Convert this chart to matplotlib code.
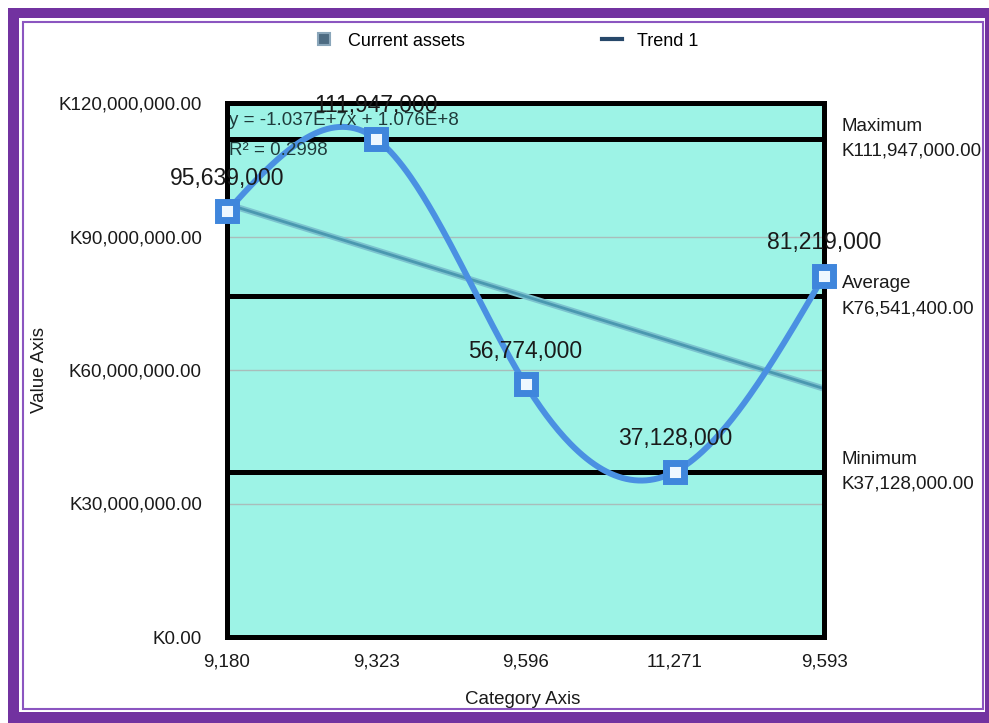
import matplotlib.pyplot as plt
import numpy as np
from matplotlib.lines import Line2D
from matplotlib.patches import Rectangle
from matplotlib.ticker import FuncFormatter

plt.rcParams["font.family"] = ["Liberation Sans", "DejaVu Sans"]

# ----------------------------------------------------------
# Data
# ----------------------------------------------------------

categories = ["9,180", "9,323", "9,596", "11,271", "9,593"]
current_assets = [95639000, 111947000, 56774000, 37128000, 81219000]
y_ticks = [0, 30000000, 60000000, 90000000, 120000000]

PURPLE = "#7232a0"
CYAN = "#9df3e6"
BLUE = "#4a90e2"
TREND = "#4a98b0"
TEXT = "#1a1a1a"
FS = 13.5


def natural_spline(x, y, num=300):
    """Natural cubic spline through (x, y) for a smooth line."""
    x = np.asarray(x, dtype=float)
    y = np.asarray(y, dtype=float)
    n = len(x)
    h = np.diff(x)
    a = np.zeros((n, n))
    b = np.zeros(n)
    a[0, 0] = a[-1, -1] = 1
    for i in range(1, n - 1):
        a[i, i - 1] = h[i - 1]
        a[i, i] = 2 * (h[i - 1] + h[i])
        a[i, i + 1] = h[i]
        b[i] = 3 * ((y[i + 1] - y[i]) / h[i] - (y[i] - y[i - 1]) / h[i - 1])
    c = np.linalg.solve(a, b)
    xs = np.linspace(x[0], x[-1], num)
    ys = np.empty_like(xs)
    for k, xv in enumerate(xs):
        i = min(np.searchsorted(x, xv, side="right") - 1, n - 2)
        dx = xv - x[i]
        bi = (y[i + 1] - y[i]) / h[i] - h[i] * (2 * c[i] + c[i + 1]) / 3
        di = (c[i + 1] - c[i]) / (3 * h[i])
        ys[k] = y[i] + bi * dx + c[i] * dx ** 2 + di * dx ** 3
    return xs, ys


W, H = 989, 723
fig = plt.figure(figsize=(W / 100, H / 100), dpi=100)


def px_rect(x0, y0, x1, y1, **kwargs):
    """Rectangle given in pixel coordinates from the top-left corner."""
    return Rectangle(
        (x0 / W, 1 - y1 / H), (x1 - x0) / W, (y1 - y0) / H,
        transform=fig.transFigure, zorder=-10, **kwargs
    )


# frame around the chart
fig.add_artist(px_rect(8, 8, 995, 730, facecolor=PURPLE, edgecolor="none"))
fig.add_artist(px_rect(19, 18, 985, 712, facecolor="white", edgecolor="none"))
fig.add_artist(px_rect(23, 22, 983, 709, facecolor="none",
                       edgecolor="#8b55c0", linewidth=1.5))

ax = fig.add_axes([227 / W, 1 - 637 / H, 597 / W, 534 / H])
ax.set_facecolor(CYAN)

x = np.arange(len(categories))
values = np.array(current_assets, dtype=float)

# grid
for yv in y_ticks[1:-1]:
    ax.axhline(yv, color="#a9bdbb", linewidth=1, zorder=1)

# max / average / min reference lines
v_max = values.max()
v_avg = values.mean()
v_min = values.min()
for yv in (v_max, v_avg, v_min):
    ax.axhline(yv, color="black", linewidth=3.6, zorder=2)

# linear trend (x counted from 1)
slope, intercept = np.polyfit(x + 1, values, 1)
trend = slope * (x + 1) + intercept
ax.plot(x, trend, color="#7cc3cf", linewidth=4.5, zorder=3, solid_capstyle="butt")
ax.plot(x, trend, color=TREND, linewidth=2, zorder=3, solid_capstyle="butt")

# smoothed series
xs, ys = natural_spline(x, values)
ax.plot(xs, ys, color=BLUE, linewidth=4.3, zorder=4, clip_on=False)
ax.plot(x, values, linestyle="none", marker="s", markersize=13,
        markerfacecolor="#eef7ff", markeredgecolor="#3f86dc",
        markeredgewidth=5, zorder=8, clip_on=False)

for xv, yv in zip(x, values):
    ax.annotate(f"{int(yv):,}", (xv, yv), xytext=(0, 24),
                textcoords="offset points", ha="center", va="center",
                fontsize=16.5, color=TEXT, zorder=9)

ax.text(0.004, 0.967, "y = -1.037E+7x + 1.076E+8", transform=ax.transAxes,
        fontsize=FS, color="#1f3b3b", va="center", ha="left", zorder=6)
ax.text(0.004, 0.911, "R² = 0.2998", transform=ax.transAxes,
        fontsize=FS, color="#1f3b3b", va="center", ha="left", zorder=6)

for name, yv in (("Maximum", v_max), ("Average", v_avg), ("Minimum", v_min)):
    ax.annotate(f"{name}\nK{yv:,.2f}", (1, yv), xycoords=("axes fraction", "data"),
                xytext=(1.03, yv), textcoords=("axes fraction", "data"),
                ha="left", va="center", fontsize=FS, linespacing=1.6,
                color=TEXT, annotation_clip=False)

ax.set_xlim(0, len(categories) - 1)
ax.set_ylim(y_ticks[0], y_ticks[-1])
ax.set_xticks(x)
ax.set_xticklabels(categories)
ax.set_yticks(y_ticks)
ax.yaxis.set_major_formatter(FuncFormatter(lambda v, _: f"K{v:,.2f}"))
ax.tick_params(axis="both", length=0, labelsize=FS, colors=TEXT)
ax.tick_params(axis="y", pad=18)
ax.tick_params(axis="x", pad=12)

for spine in ax.spines.values():
    spine.set_linewidth(3.6)
    spine.set_color("black")
    spine.set_zorder(7)

fig.text(40 / W, 1 - 370 / H, "Value Axis", rotation=90, ha="center",
         va="center", fontsize=FS, color=TEXT)
fig.text(523 / W, 1 - 700 / H, "Category Axis", ha="center",
         va="center", fontsize=FS, color=TEXT)

handles = [
    Line2D([], [], linestyle="none", marker="s", markersize=9,
           markerfacecolor="#4d6b82", markeredgecolor="#8aa6ba",
           markeredgewidth=1.5),
    Line2D([], [], color="#27486a", linewidth=3),
]
fig.legend(handles, ["Current assets", "Trend 1"], loc="center",
           bbox_to_anchor=(506 / W, 1 - 41 / H), ncol=2, frameon=False,
           fontsize=13, columnspacing=7.6, handlelength=1.1,
           handletextpad=0.8)

fig.savefig("out.png", dpi=100)
